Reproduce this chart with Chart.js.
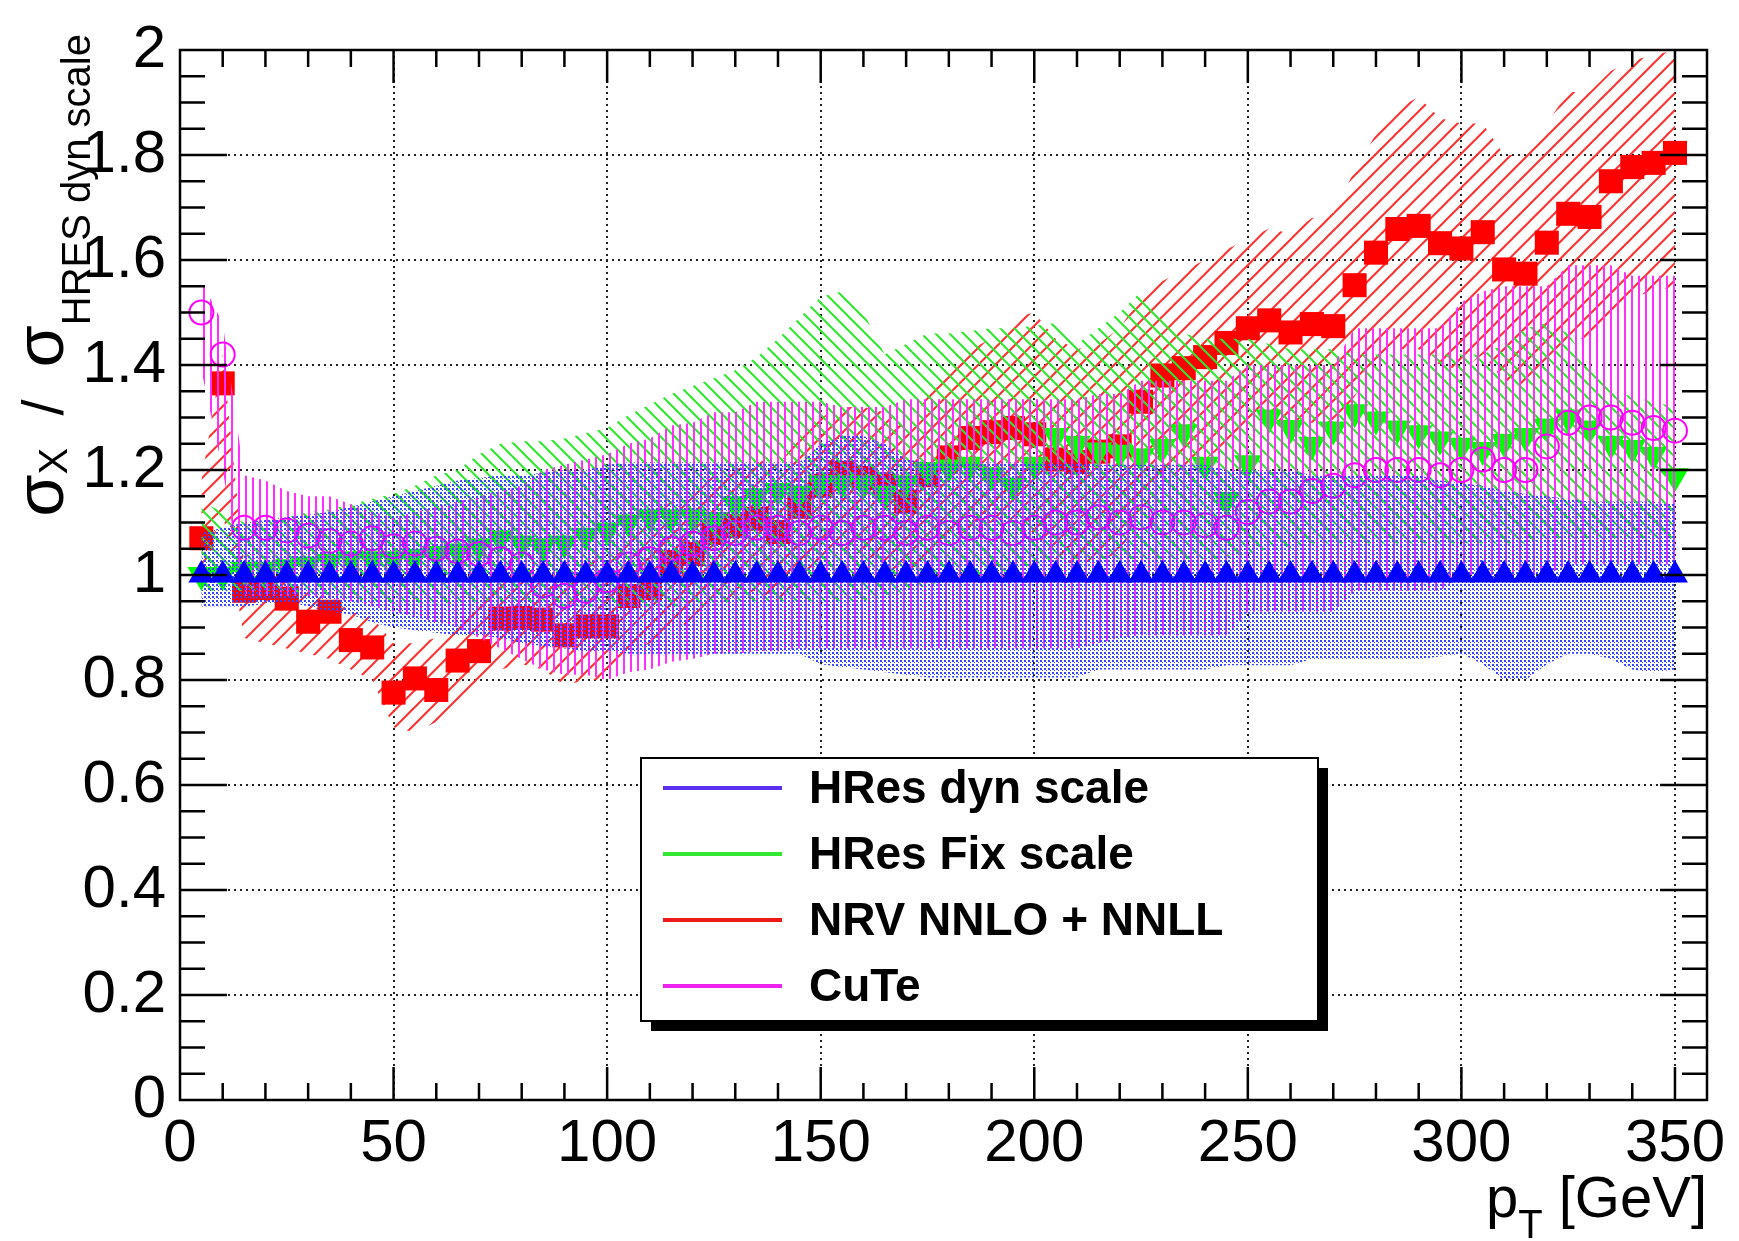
<!DOCTYPE html>
<html>
<head>
<meta charset="utf-8">
<script src="https://cdn.jsdelivr.net/npm/chart.js@4.4.1/dist/chart.umd.min.js"></script>
<style>
body { margin: 0; background: #fff; }
</style>
</head>
<body>
<canvas id="ratio-chart" width="1739" height="1241"></canvas>
<script>
// pT bin centres [GeV]
const ptValues = [
    5, 10, 15, 20, 25, 30, 35, 40, 45, 50,
    55, 60, 65, 70, 75, 80, 85, 90, 95, 100,
    105, 110, 115, 120, 125, 130, 135, 140, 145, 150,
    155, 160, 165, 170, 175, 180, 185, 190, 195, 200,
    205, 210, 215, 220, 225, 230, 235, 240, 245, 250,
    255, 260, 265, 270, 275, 280, 285, 290, 295, 300,
    305, 310, 315, 320, 325, 330, 335, 340, 345, 350,
];

// HRes dyn scale (reference, ratio = 1) and its band
const hresDyn = [
    1, 1, 1, 1, 1, 1, 1, 1, 1, 1,
    1, 1, 1, 1, 1, 1, 1, 1, 1, 1,
    1, 1, 1, 1, 1, 1, 1, 1, 1, 1,
    1, 1, 1, 1, 1, 1, 1, 1, 1, 1,
    1, 1, 1, 1, 1, 1, 1, 1, 1, 1,
    1, 1, 1, 1, 1, 1, 1, 1, 1, 1,
    1, 1, 1, 1, 1, 1, 1, 1, 1, 1,
];
const hresDynUp = [
    1.08, 1.09, 1.10, 1.105, 1.11, 1.115, 1.12, 1.13, 1.14, 1.15,
    1.16, 1.17, 1.18, 1.185, 1.19, 1.19, 1.195, 1.2, 1.2, 1.21,
    1.215, 1.215, 1.215, 1.215, 1.215, 1.215, 1.215, 1.215, 1.215, 1.25,
    1.265, 1.265, 1.25, 1.22, 1.215, 1.215, 1.215, 1.215, 1.215, 1.215,
    1.215, 1.215, 1.21, 1.21, 1.21, 1.21, 1.21, 1.21, 1.2, 1.2,
    1.2, 1.2, 1.19, 1.19, 1.19, 1.19, 1.19, 1.19, 1.18, 1.175,
    1.17, 1.16, 1.155, 1.15, 1.145, 1.14, 1.14, 1.14, 1.14, 1.135,
];
const hresDynDown = [
    0.94, 0.94, 0.94, 0.945, 0.95, 0.94, 0.93, 0.925, 0.91, 0.90,
    0.895, 0.89, 0.885, 0.885, 0.88, 0.87, 0.865, 0.86, 0.855, 0.855,
    0.85, 0.85, 0.85, 0.85, 0.85, 0.85, 0.85, 0.85, 0.85, 0.83,
    0.825, 0.82, 0.815, 0.81, 0.805, 0.805, 0.805, 0.805, 0.805, 0.805,
    0.805, 0.805, 0.82, 0.82, 0.82, 0.82, 0.82, 0.82, 0.828, 0.828,
    0.828, 0.828, 0.84, 0.84, 0.84, 0.84, 0.84, 0.84, 0.845, 0.85,
    0.83, 0.80, 0.80, 0.83, 0.85, 0.85, 0.84, 0.82, 0.815, 0.82,
];

// HRes fixed scale
const hresFix = [
    1.0, 1.0, 1.01, 1.01, 1.015, 1.02, 1.025, 1.03, 1.03, 1.03,
    1.035, 1.04, 1.045, 1.055, 1.07, 1.06, 1.055, 1.06, 1.075, 1.085,
    1.1, 1.11, 1.11, 1.11, 1.105, 1.135, 1.15, 1.16, 1.155, 1.175,
    1.175, 1.175, 1.155, 1.175, 1.2, 1.205, 1.21, 1.19, 1.17, 1.21,
    1.265, 1.25, 1.237, 1.233, 1.226, 1.244, 1.272, 1.21, 1.143, 1.213,
    1.30, 1.28, 1.248, 1.277, 1.31, 1.296, 1.279, 1.27, 1.258, 1.246,
    1.238, 1.254, 1.265, 1.283, 1.30, 1.279, 1.25, 1.242, 1.229, 1.188,
];
const hresFixUp = [
    1.14, 1.12, 1.10, 1.10, 1.11, 1.12, 1.125, 1.135, 1.145, 1.155,
    1.17, 1.19, 1.2, 1.23, 1.25, 1.255, 1.255, 1.26, 1.27, 1.28,
    1.305, 1.325, 1.345, 1.36, 1.375, 1.39, 1.415, 1.45, 1.49, 1.53,
    1.54, 1.5, 1.42, 1.44, 1.46, 1.46, 1.465, 1.47, 1.47, 1.475,
    1.48, 1.44, 1.47, 1.5, 1.54, 1.5, 1.46, 1.45, 1.45, 1.45,
    1.44, 1.43, 1.43, 1.43, 1.42, 1.42, 1.42, 1.42, 1.42, 1.42,
    1.42, 1.44, 1.47, 1.48, 1.46, 1.40, 1.35, 1.34, 1.33, 1.32,
];
const hresFixDown = [
    0.97, 0.97, 0.97, 0.97, 0.97, 0.965, 0.96, 0.955, 0.95, 0.945,
    0.945, 0.945, 0.945, 0.95, 0.95, 0.95, 0.945, 0.94, 0.94, 0.94,
    0.94, 0.94, 0.94, 0.94, 0.945, 0.95, 0.95, 0.95, 0.95, 0.95,
    0.95, 0.95, 0.96, 0.97, 0.98, 0.99, 1.0, 1.0, 1.01, 1.02,
    1.03, 1.03, 1.03, 1.03, 1.03, 1.03, 1.03, 1.03, 1.03, 1.04,
    1.05, 1.05, 1.06, 1.06, 1.06, 1.06, 1.06, 1.06, 1.06, 1.06,
    1.06, 1.06, 1.06, 1.07, 1.07, 1.07, 1.07, 1.07, 1.07, 1.07,
];

// NRV NNLO + NNLL
const nrv = [
    1.07, 1.365, 0.97, 0.975, 0.955, 0.911, 0.93, 0.876, 0.862, 0.776,
    0.803, 0.781, 0.837, 0.855, 0.917, 0.918, 0.915, 0.885, 0.902, 0.902,
    0.96, 0.975, 1.025, 1.04, 1.08, 1.093, 1.107, 1.082, 1.13, 1.17,
    1.195, 1.185, 1.17, 1.14, 1.19, 1.224, 1.261, 1.272, 1.28, 1.268,
    1.22, 1.215, 1.235, 1.245, 1.33, 1.38, 1.394, 1.415, 1.442, 1.47,
    1.485, 1.462, 1.478, 1.474, 1.552, 1.614, 1.659, 1.665, 1.632, 1.622,
    1.653, 1.582, 1.574, 1.633, 1.688, 1.682, 1.75, 1.777, 1.785, 1.804,
];
const nrvUp = [
    1.18, 1.42, 1.02, 1.0, 0.99, 0.97, 0.96, 0.93, 0.92, 0.87,
    0.87, 0.88, 0.92, 0.95, 1.0, 1.0, 1.0, 1.0, 1.02, 1.04,
    1.08, 1.11, 1.14, 1.16, 1.19, 1.2, 1.22, 1.21, 1.26, 1.3,
    1.32, 1.32, 1.31, 1.28, 1.34, 1.39, 1.43, 1.45, 1.49, 1.5,
    1.45, 1.43, 1.44, 1.47, 1.53, 1.56, 1.58, 1.6, 1.62, 1.64,
    1.66, 1.65, 1.68, 1.69, 1.77, 1.84, 1.89, 1.91, 1.87, 1.86,
    1.86, 1.8, 1.8, 1.86, 1.92, 1.92, 1.96, 1.98, 1.99, 2.0,
];
const nrvDown = [
    1.0, 1.12, 0.88, 0.87, 0.86, 0.85, 0.84, 0.82, 0.8, 0.71,
    0.7, 0.72, 0.75, 0.78, 0.82, 0.83, 0.82, 0.79, 0.8, 0.8,
    0.85, 0.87, 0.9, 0.91, 0.94, 0.96, 0.97, 0.95, 0.98, 1.02,
    1.05, 1.04, 1.02, 0.99, 1.03, 1.06, 1.09, 1.1, 1.1, 1.08,
    1.03, 1.02, 1.03, 1.04, 1.12, 1.18, 1.2, 1.22, 1.25, 1.28,
    1.3, 1.28, 1.29, 1.28, 1.34, 1.4, 1.43, 1.43, 1.4, 1.39,
    1.42, 1.37, 1.36, 1.41, 1.45, 1.45, 1.5, 1.53, 1.54, 1.55,
];

// CuTe
const cute = [
    1.50, 1.42, 1.09, 1.09, 1.085, 1.075, 1.065, 1.06, 1.07, 1.055,
    1.06, 1.05, 1.045, 1.04, 1.03, 1.02, 0.98, 0.96, 0.97, 0.99,
    1.02, 1.03, 1.05, 1.06, 1.07, 1.08, 1.09, 1.09, 1.08, 1.09,
    1.08, 1.09, 1.09, 1.08, 1.09, 1.08, 1.09, 1.09, 1.08, 1.09,
    1.10, 1.10, 1.11, 1.10, 1.11, 1.10, 1.10, 1.095, 1.09, 1.12,
    1.14, 1.14, 1.16, 1.17, 1.19, 1.20, 1.20, 1.20, 1.19, 1.20,
    1.22, 1.20, 1.20, 1.245, 1.29, 1.30, 1.30, 1.29, 1.28, 1.275,
];
const cuteUp = [
    1.56, 1.48, 1.19, 1.18, 1.16, 1.15, 1.15, 1.135, 1.12, 1.11,
    1.12, 1.13, 1.14, 1.15, 1.16, 1.17, 1.2, 1.21, 1.22, 1.23,
    1.25, 1.26, 1.285, 1.29, 1.31, 1.31, 1.33, 1.33, 1.33, 1.33,
    1.32, 1.32, 1.32, 1.335, 1.335, 1.335, 1.335, 1.335, 1.335, 1.335,
    1.335, 1.335, 1.345, 1.345, 1.37, 1.37, 1.37, 1.37, 1.37, 1.40,
    1.40, 1.40, 1.40, 1.40, 1.47, 1.47, 1.47, 1.47, 1.47, 1.52,
    1.54, 1.55, 1.55, 1.55, 1.59, 1.59, 1.59, 1.57, 1.57, 1.57,
];
const cuteDown = [
    1.39, 1.2, 0.96, 0.96, 0.96, 0.96, 0.955, 0.95, 0.94, 0.93,
    0.92, 0.91, 0.9, 0.88, 0.86, 0.84, 0.82, 0.81, 0.81, 0.8,
    0.815, 0.82, 0.835, 0.84, 0.85, 0.85, 0.855, 0.855, 0.86, 0.86,
    0.86, 0.86, 0.86, 0.86, 0.86, 0.86, 0.86, 0.86, 0.86, 0.86,
    0.86, 0.86, 0.87, 0.88, 0.885, 0.885, 0.885, 0.885, 0.885, 0.93,
    0.93, 0.93, 0.93, 0.93, 0.97, 0.97, 0.97, 0.97, 0.97, 1.0,
    1.0, 1.0, 1.0, 1.0, 1.02, 1.02, 1.02, 1.02, 1.02, 1.02,
];

const legendLabels = ['HRes dyn scale', 'HRes Fix scale', 'NRV NNLO + NNLL', 'CuTe'];
const legendColors = ['#5b2ff0', '#33e833', '#ee1a1a', '#ee22ee'];

const FONT = "'Liberation Sans', Arial, Helvetica, sans-serif";
Chart.defaults.font.family = FONT;
Chart.defaults.color = '#000';

function points(values) {
    return values.map((v, i) => ({ x: ptValues[i], y: v }));
}

// fill patterns like the ROOT hatch styles
function makePattern(w, h, draw) {
    const c = document.createElement('canvas');
    c.width = w;
    c.height = h;
    const g = c.getContext('2d');
    draw(g);
    return g.createPattern(c, 'repeat');
}
function hatchForward(color, s, lw) {
    return makePattern(s, s, (g) => {
        g.strokeStyle = color;
        g.lineWidth = lw;
        g.beginPath();
        g.moveTo(-2, s + 2); g.lineTo(s + 2, -2);
        g.moveTo(-2, 2); g.lineTo(2, -2);
        g.moveTo(s - 2, s + 2); g.lineTo(s + 2, s - 2);
        g.stroke();
    });
}
function hatchBack(color, s, lw) {
    return makePattern(s, s, (g) => {
        g.strokeStyle = color;
        g.lineWidth = lw;
        g.beginPath();
        g.moveTo(-2, -2); g.lineTo(s + 2, s + 2);
        g.moveTo(s - 2, -2); g.lineTo(s + 2, 2);
        g.moveTo(-2, s - 2); g.lineTo(2, s + 2);
        g.stroke();
    });
}
function hatchVertical(color, s, lw) {
    return makePattern(s, 4, (g) => {
        g.fillStyle = color;
        g.fillRect(0, 0, lw, 4);
    });
}
function dots(color) {
    return makePattern(4, 4, (g) => {
        g.fillStyle = color;
        g.fillRect(0, 0, 2, 2);
        g.fillRect(2, 2, 1, 1);
    });
}

function bandLow(values, order) {
    return { data: points(values), borderWidth: 0, pointRadius: 0, fill: false, order: order };
}
function bandHigh(values, pattern, order) {
    return { data: points(values), borderWidth: 0, pointRadius: 0, fill: '-1', backgroundColor: pattern, order: order };
}

const decorPlugin = {
    id: 'rootDecor',
    beforeDatasetsDraw(chart) {
        const ctx = chart.ctx;
        const a = chart.chartArea;
        const xs = chart.scales.x;
        const ys = chart.scales.y;
        ctx.save();
        ctx.strokeStyle = '#222';
        ctx.lineWidth = 2;
        ctx.setLineDash([2, 4]);
        ctx.beginPath();
        xs.ticks.forEach((t) => {
            if (t.value <= 0) return;
            const px = Math.round(xs.getPixelForValue(t.value));
            ctx.moveTo(px, a.top);
            ctx.lineTo(px, a.bottom);
        });
        ys.ticks.forEach((t) => {
            if (t.value <= 0 || t.value >= 2) return;
            const py = Math.round(ys.getPixelForValue(t.value));
            ctx.moveTo(a.left, py);
            ctx.lineTo(a.right, py);
        });
        ctx.stroke();
        ctx.restore();
    },
    afterDraw(chart) {
        const ctx = chart.ctx;
        const a = chart.chartArea;
        const xs = chart.scales.x;
        const ys = chart.scales.y;
        ctx.save();

        // frame and inward ticks on all four sides
        ctx.strokeStyle = '#000';
        ctx.lineWidth = 2.5;
        ctx.strokeRect(a.left, a.top, a.right - a.left, a.bottom - a.top);
        ctx.beginPath();
        for (let v = 10; v <= 356; v += 10) {
            const px = xs.getPixelForValue(v);
            const len = v % 50 === 0 ? 33 : 17;
            ctx.moveTo(px, a.bottom); ctx.lineTo(px, a.bottom - len);
            ctx.moveTo(px, a.top); ctx.lineTo(px, a.top + len);
        }
        for (let k = 1; k < 40; k++) {
            const py = ys.getPixelForValue(k * 0.05);
            const len = k % 4 === 0 ? 47 : 25;
            ctx.moveTo(a.left, py); ctx.lineTo(a.left + len, py);
            ctx.moveTo(a.right, py); ctx.lineTo(a.right - len, py);
        }
        ctx.stroke();

        // legend box with shadow
        const lx = 641, ly = 758, lw = 677, lh = 263;
        ctx.fillStyle = '#000';
        ctx.fillRect(lx + 10, ly + 10, lw, lh);
        ctx.fillStyle = '#fff';
        ctx.fillRect(lx, ly, lw, lh);
        ctx.lineWidth = 2;
        ctx.strokeRect(lx, ly, lw, lh);
        ctx.font = 'bold 46px ' + FONT;
        ctx.textBaseline = 'middle';
        ctx.textAlign = 'left';
        legendLabels.forEach((label, i) => {
            const y = ly + 30 + i * 66;
            ctx.strokeStyle = legendColors[i];
            ctx.lineWidth = 4;
            ctx.beginPath();
            ctx.moveTo(663, y);
            ctx.lineTo(782, y);
            ctx.stroke();
            ctx.fillStyle = '#000';
            ctx.fillText(label, 809, y + 2);
        });

        // x title: p_T [GeV]
        ctx.textBaseline = 'alphabetic';
        const mainFont = '58px ' + FONT;
        const subFont = '40px ' + FONT;
        const sigmaFont = '68px ' + FONT;
        ctx.font = mainFont;
        const wGeV = ctx.measureText(' [GeV]').width;
        const wP = ctx.measureText('p').width;
        ctx.font = subFont;
        const wT = ctx.measureText('T').width;
        const x0 = a.right - wGeV - wT - wP;
        ctx.font = mainFont;
        ctx.fillText('p', x0, 1217);
        ctx.font = subFont;
        ctx.fillText('T', x0 + wP, 1238);
        ctx.font = mainFont;
        ctx.fillText(' [GeV]', x0 + wP + wT, 1217);

        // y title: sigma_X / sigma_HRES dyn scale
        const parts = [
            ['\u03C3', sigmaFont, 0],
            ['X', subFont, 4],
            ['  /  ', mainFont, 0],
            ['\u03C3', sigmaFont, 0],
            ['HRES dyn scale', subFont, 27],
        ];
        let total = 0;
        parts.forEach((p) => { ctx.font = p[1]; total += ctx.measureText(p[0]).width; });
        ctx.translate(63, 34 + total);
        ctx.rotate(-Math.PI / 2);
        let pos = 0;
        parts.forEach((p) => {
            ctx.font = p[1];
            ctx.fillText(p[0], pos, p[2]);
            pos += ctx.measureText(p[0]).width;
        });
        ctx.restore();
    }
};

const ctx = document.getElementById('ratio-chart').getContext('2d');
const ratioChart = new Chart(ctx, {
    type: 'line',
    data: {
        datasets: [
            // NRV band + points
            bandLow(nrvDown, 120),
            bandHigh(nrvUp, hatchForward('#ff3030', 17, 2), 119),
            {
                data: points(nrv),
                showLine: false,
                pointStyle: 'rect',
                pointRadius: 17,
                pointBackgroundColor: '#ff0000',
                pointBorderWidth: 0,
                order: 118
            },
            // HRes fix band + points
            bandLow(hresFixDown, 110),
            bandHigh(hresFixUp, hatchBack('#2ee82e', 14, 2), 109),
            {
                data: points(hresFix),
                showLine: false,
                pointStyle: 'triangle',
                rotation: 180,
                pointRadius: 16,
                pointBackgroundColor: '#00ff00',
                pointBorderWidth: 0,
                order: 108
            },
            // CuTe band + points
            bandLow(cuteDown, 100),
            bandHigh(cuteUp, hatchVertical('#ff30ff', 7, 2), 99),
            {
                data: points(cute),
                showLine: false,
                pointStyle: 'circle',
                pointRadius: 12,
                pointBackgroundColor: 'rgba(0,0,0,0)',
                pointBorderColor: '#ff00ff',
                pointBorderWidth: 2,
                order: 98
            },
            // HRes dyn band + points
            bandLow(hresDynDown, 90),
            bandHigh(hresDynUp, dots('#3344ff'), 89),
            {
                data: points(hresDyn),
                showLine: false,
                pointStyle: 'triangle',
                pointRadius: 15,
                pointBackgroundColor: '#0000ff',
                pointBorderWidth: 0,
                order: 88
            },
        ]
    },
    options: {
        responsive: false,
        animation: false,
        events: [],
        devicePixelRatio: 1,
        layout: {
            autoPadding: false,
            padding: { top: 30, right: 32, bottom: 0, left: 0 }
        },
        elements: {
            line: { tension: 0 }
        },
        plugins: {
            legend: { display: false },
            tooltip: { enabled: false },
            title: { display: false }
        },
        scales: {
            x: {
                type: 'linear',
                min: 0,
                max: 357.5,
                grid: { display: false, drawTicks: false },
                border: { display: false },
                ticks: {
                    stepSize: 50,
                    includeBounds: false,
                    maxRotation: 0,
                    padding: 8,
                    font: { size: 60 },
                    color: '#000'
                },
                afterFit(scale) { scale.height = 141; }
            },
            y: {
                type: 'linear',
                min: 0,
                max: 2,
                grid: { display: false, drawTicks: false },
                border: { display: false },
                ticks: {
                    stepSize: 0.2,
                    padding: 14,
                    font: { size: 60 },
                    color: '#000',
                    callback: (v) => String(+v.toFixed(1))
                },
                afterFit(scale) { scale.width = 180; }
            }
        }
    },
    plugins: [ decorPlugin ],
});
</script>
</body>
</html>
